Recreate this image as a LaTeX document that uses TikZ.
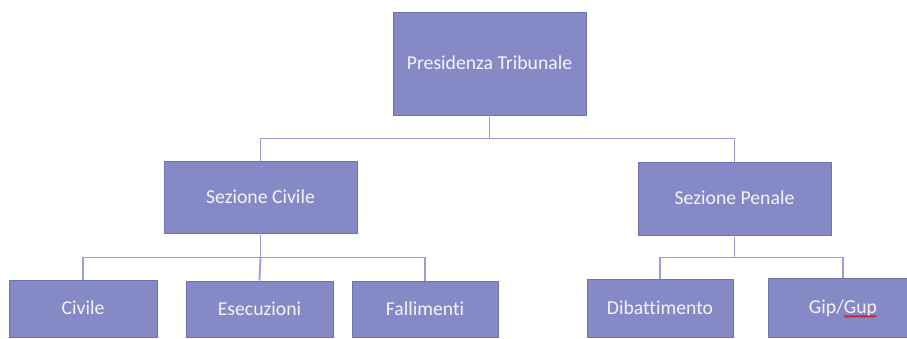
\documentclass[tikz,border=0pt]{standalone}
\usepackage{fontspec}
\setmainfont{Carlito}[Ligatures={NoCommon}]
\usetikzlibrary{calc,decorations.pathmorphing}
\definecolor{boxfill}{HTML}{8589C5}
\definecolor{boxline}{HTML}{6E72AE}
\definecolor{connline}{HTML}{9A9ED6}
\definecolor{boxtext}{HTML}{F4F4FA}
\tikzset{
  orgbox/.style={draw=boxline, line width=0.9pt, fill=boxfill, text=boxtext,
    font=\fontsize{19.7}{23}\selectfont, inner sep=0pt,
    text height=12.7pt, text depth=0pt, anchor=center},
  conn/.style={draw=connline, line width=1.8pt},
  spell/.style={draw=red!85!black, line width=0.7pt,
    decorate, decoration={snake, amplitude=0.9pt, segment length=3pt}}
}
\begin{document}
\begin{tikzpicture}[x=1pt, y=-1pt]
\clip (0,0) rectangle (907,338);
\fill[white] (0,0) rectangle (907,338);
\node[orgbox, minimum width=193pt, minimum height=103pt] (top) at (489.5,63.5) {Presidenza Tribunale};
\node[orgbox, minimum width=193pt, minimum height=72pt] (civ) at (260.5,197) {Sezione Civile};
\node[orgbox, minimum width=193pt, minimum height=73pt] (pen) at (734.5,198.5) {Sezione Penale};
\node[orgbox, minimum width=148pt, minimum height=57pt] (civile) at (83,308.5) {Civile};
\node[orgbox, minimum width=147pt, minimum height=56pt] (esec) at (259.5,309) {Esecuzioni};
\node[orgbox, minimum width=146pt, minimum height=56pt] (fall) at (425,309) {Fallimenti};
\node[orgbox, minimum width=146pt, minimum height=58pt] (dib) at (660,308) {Dibattimento};
\node[orgbox, minimum width=150pt, minimum height=59pt] (gip) at (843,307.5) {Gip/Gup};
\draw[conn] (top.south) -- ++(0,23) coordinate (bus1) -| (civ.north);
\draw[conn] (bus1) -| (pen.north);
\draw[conn] (civ.south) -- ++(0,24) coordinate (bus2) -| (civile.north);
\draw[conn] (bus2) -- (esec.north);
\draw[conn] (bus2) -| (fall.north);
\draw[conn] (pen.south) -- ++(0,22) coordinate (bus3) -| (dib.north);
\draw[conn] (bus3) -| (gip.north);
\path[spell] ($(gip.base)+(1,2.5)$) -- ($(gip.base)+(34,2.5)$);
\end{tikzpicture}
\end{document}
